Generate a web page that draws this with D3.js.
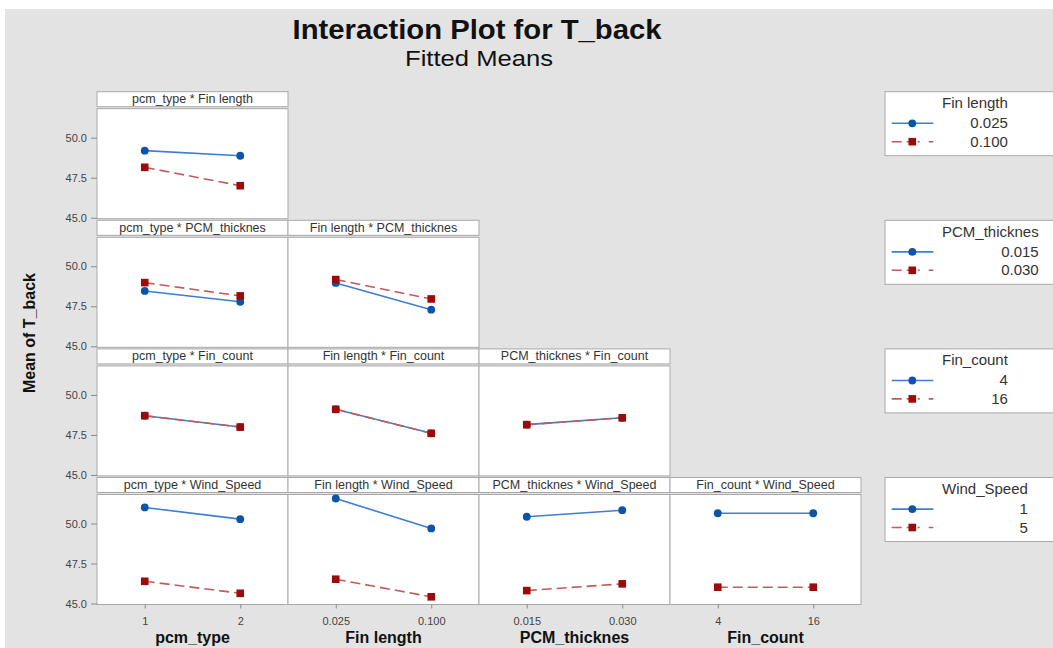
<!DOCTYPE html>
<html>
<head>
<meta charset="utf-8">
<script src="https://d3js.org/d3.v7.min.js"></script>
<style>
  body { margin: 0; background: #fff; }
  svg { display: block; font-family: "Liberation Sans", Arial, sans-serif; }
</style>
<script>
    const w = 1053
    const h = 648
    const xFactors = ["pcm_type", "Fin length", "PCM_thicknes", "Fin_count"]
    const xLevels = [["1", "2"], ["0.025", "0.100"], ["0.015", "0.030"], ["4", "16"]]
    const traceFactors = ["Fin length", "PCM_thicknes", "Fin_count", "Wind_Speed"]
    const traceLevels = [["0.025", "0.100"], ["0.015", "0.030"], ["4", "16"], ["1", "5"]]
    const yTicks = [45.0, 47.5, 50.0]

    // fitted means per panel: [mean at x level 1, mean at x level 2]
    const finLengthLow = [[49.19, 48.87]]
    const finLengthHigh = [[48.15, 47.00]]
    const pcmThickLow = [[48.46, 47.78], [48.96, 47.29]]
    const pcmThickHigh = [[48.98, 48.15], [49.17, 47.96]]
    const finCountLow = [[48.70, 47.99], [49.10, 47.60], [48.14, 48.57]]
    const finCountHigh = [[48.70, 47.99], [49.10, 47.60], [48.14, 48.57]]
    const windLow = [[51.00, 50.27], [51.56, 49.69], [50.42, 50.83], [50.64, 50.64]]
    const windHigh = [[46.39, 45.64], [46.52, 45.42], [45.81, 46.23], [46.02, 46.02]]

    const lowMeans = [finLengthLow, pcmThickLow, finCountLow, windLow]
    const highMeans = [finLengthHigh, pcmThickHigh, finCountHigh, windHigh]

    const blueLine = "#3b7fd0", blueDot = "#0b55a8"
    const redLine = "#c25a5a", redDot = "#9c0a0a"
    const border = "#a9a9a9"

    function draw() {
        const svg = d3.select("body").append("svg")
            .attr("width", w)
            .attr("height", h)

        svg.append("rect")
            .attr("x", 5).attr("y", 9)
            .attr("width", w - 5).attr("height", h - 9)
            .attr("fill", "#e3e3e3")

        // title
        svg.append("text")
            .attr("x", 477).attr("y", 39)
            .attr("text-anchor", "middle")
            .attr("font-size", 27).attr("font-weight", "bold")
            .attr("textLength", 369).attr("lengthAdjust", "spacingAndGlyphs")
            .attr("fill", "#111")
            .text("Interaction Plot for T_back")
        svg.append("text")
            .attr("x", 479).attr("y", 66)
            .attr("text-anchor", "middle")
            .attr("font-size", 22)
            .attr("textLength", 148).attr("lengthAdjust", "spacingAndGlyphs")
            .attr("fill", "#111")
            .text("Fitted Means")

        svg.append("text")
            .attr("transform", "translate(35,333) rotate(-90)")
            .attr("text-anchor", "middle")
            .attr("font-size", 16).attr("font-weight", "bold")
            .attr("fill", "#111")
            .text("Mean of T_back")

        const col = d3.scaleBand().domain(d3.range(4)).range([97, 861])
        const bw = col.bandwidth()
        // top of the header strip in each row
        const rowTop = d3.scaleLinear().domain([0, 1]).range([91.7, 220.3])
        const headH = 15, gap = 2, plotH = 110
        const y = d3.scaleLinear().domain([44.94, 51.81]).range([plotH, 0])

        traceFactors.forEach((tf, r) => {
            for (let c = 0; c <= r; c++) {
                const g = svg.append("g")
                    .attr("transform", `translate(${col(c)},${rowTop(r)})`)

                g.append("rect")
                    .attr("width", bw).attr("height", headH)
                    .attr("fill", "#fff").attr("stroke", border)
                g.append("text")
                    .attr("x", bw / 2).attr("y", headH / 2 + 4)
                    .attr("text-anchor", "middle")
                    .attr("font-size", 12.5).attr("fill", "#333")
                    .text(`${xFactors[c]} * ${tf}`)

                const p = g.append("g").attr("transform", `translate(0,${headH + gap})`)
                p.append("rect")
                    .attr("width", bw).attr("height", plotH)
                    .attr("fill", "#fff").attr("stroke", border)

                const x = d3.scalePoint().domain(xLevels[c]).range([0, bw]).padding(0.5)
                const line = d3.line()
                    .x((d, i) => x(xLevels[c][i]))
                    .y(d => y(d))

                const low = lowMeans[r][c]
                const high = highMeans[r][c]

                p.append("path")
                    .attr("d", line(low))
                    .attr("fill", "none").attr("stroke", blueLine).attr("stroke-width", 1.6)
                p.selectAll(".dot")
                    .data(low)
                    .enter().append("circle")
                    .attr("class", "dot")
                    .attr("cx", (d, i) => x(xLevels[c][i]))
                    .attr("cy", d => y(d))
                    .attr("r", 3.9)
                    .attr("fill", blueDot)

                p.append("path")
                    .attr("d", line(high))
                    .attr("fill", "none").attr("stroke", redLine).attr("stroke-width", 1.6)
                    .attr("stroke-dasharray", "10,5")
                p.selectAll(".sq")
                    .data(high)
                    .enter().append("rect")
                    .attr("class", "sq")
                    .attr("x", (d, i) => x(xLevels[c][i]) - 3.8)
                    .attr("y", d => y(d) - 3.8)
                    .attr("width", 7.6).attr("height", 7.6)
                    .attr("fill", redDot)

                if (c == 0) {
                    const ay = p.append("g")
                        .call(d3.axisLeft(y).tickValues(yTicks).tickSize(6).tickPadding(4)
                            .tickFormat(d3.format(".1f")))
                    ay.select(".domain").remove()
                    ay.selectAll("line").attr("stroke", "#888")
                    ay.selectAll("text").attr("font-size", 11).attr("fill", "#444")
                        .attr("font-family", "Liberation Sans, Arial, sans-serif")
                }
                if (r == traceFactors.length - 1) {
                    const ax = p.append("g")
                        .attr("transform", `translate(0,${plotH})`)
                        .call(d3.axisBottom(x).tickSize(4).tickPadding(9))
                    ax.select(".domain").remove()
                    ax.selectAll("line").attr("stroke", "#888")
                    ax.selectAll("text").attr("font-size", 11).attr("fill", "#444")
                        .attr("font-family", "Liberation Sans, Arial, sans-serif")
                    svg.append("text")
                        .attr("x", col(c) + bw / 2).attr("y", 643)
                        .attr("text-anchor", "middle")
                        .attr("font-size", 16).attr("font-weight", "bold")
                        .attr("fill", "#111")
                        .text(xFactors[c])
                }
            }

            // legend box for this row's trace factor
            const lg = svg.append("g")
                .attr("transform", `translate(885,${rowTop(r)})`)
            lg.append("rect")
                .attr("width", 200).attr("height", 64)
                .attr("fill", "#fff").attr("stroke", border)
            const title = lg.append("text")
                .attr("x", 57).attr("y", 16.5)
                .attr("font-size", 15).attr("fill", "#333")
                .text(tf)
            const right = 57 + title.node().getComputedTextLength()
            const rows = [
                { y: 31.6, label: traceLevels[r][0], kind: "low" },
                { y: 50, label: traceLevels[r][1], kind: "high" }
            ]
            rows.forEach(e => {
                lg.append("line")
                    .attr("x1", 6.7).attr("x2", 48.3)
                    .attr("y1", e.y).attr("y2", e.y)
                    .attr("stroke", e.kind == "low" ? blueLine : redLine)
                    .attr("stroke-width", 1.6)
                    .attr("stroke-dasharray", e.kind == "low" ? null : "10,5,4,7,2,9")
                if (e.kind == "low") {
                    lg.append("circle").attr("cx", 27.3).attr("cy", e.y).attr("r", 3.9).attr("fill", blueDot)
                } else {
                    lg.append("rect").attr("x", 27.3 - 3.8).attr("y", e.y - 3.8)
                        .attr("width", 7.6).attr("height", 7.6).attr("fill", redDot)
                }
                lg.append("text")
                    .attr("x", right).attr("y", e.y + 5)
                    .attr("text-anchor", "end")
                    .attr("font-size", 15).attr("fill", "#333")
                    .text(e.label)
            })
        })
    }
</script>
</head>
<body onload="draw()">
</body>
</html>
